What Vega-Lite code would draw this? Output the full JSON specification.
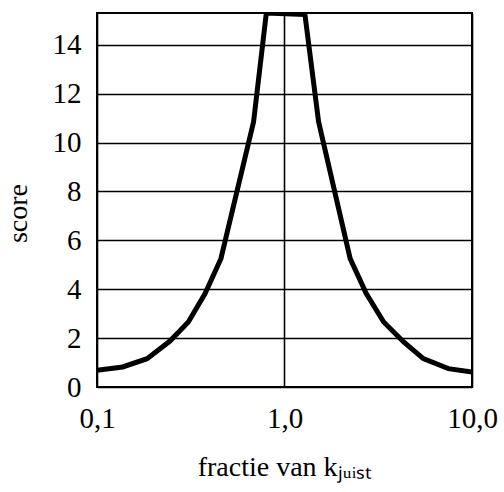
{
  "$schema": "https://vega.github.io/schema/vega-lite/v6.json",
  "width": 375,
  "height": 374,
  "autosize": "none",
  "padding": {"left": 97, "top": 13, "right": 32, "bottom": 105},
  "background": "white",
  "config": {
    "font": "Liberation Serif",
    "view": {"stroke": "black", "strokeWidth": 2},
    "axis": {
      "labelColor": "black",
      "titleColor": "black",
      "titleFontWeight": "normal",
      "domain": false,
      "ticks": false,
      "gridColor": "black",
      "gridOpacity": 1,
      "gridWidth": 1.6
    }
  },
  "data": {
    "values": [
      {"fractie": 0.1, "score": 0.68},
      {"fractie": 0.137, "score": 0.82},
      {"fractie": 0.185, "score": 1.16},
      {"fractie": 0.245, "score": 1.88},
      {"fractie": 0.307, "score": 2.66},
      {"fractie": 0.377, "score": 3.82},
      {"fractie": 0.458, "score": 5.25},
      {"fractie": 0.684, "score": 10.85},
      {"fractie": 0.8, "score": 15.3},
      {"fractie": 1.285, "score": 15.24},
      {"fractie": 1.52, "score": 10.85},
      {"fractie": 2.24, "score": 5.25},
      {"fractie": 2.73, "score": 3.82},
      {"fractie": 3.38, "score": 2.66},
      {"fractie": 4.32, "score": 1.84},
      {"fractie": 5.5, "score": 1.16},
      {"fractie": 7.48, "score": 0.75},
      {"fractie": 10, "score": 0.61}
    ]
  },
  "mark": {"type": "line", "color": "black", "strokeWidth": 5, "clip": true, "strokeJoin": "miter"},
  "encoding": {
    "x": {
      "field": "fractie",
      "type": "quantitative",
      "scale": {"type": "log", "domain": [0.1, 10], "nice": false},
      "axis": {
        "values": [0.1, 1, 10],
        "labelExpr": "datum.value < 0.5 ? '0,1' : datum.value < 5 ? '1,0' : '10,0'",
        "labelFont": "Liberation Serif",
        "labelFontSize": 29,
        "labelPadding": 17,
        "labelFlush": false,
        "labelBaseline": "top",
        "title": "fractie van kⱼᵤᵢₛₜ",
        "titleFont": "Liberation Serif",
        "titleFontSize": 28,
        "titlePadding": 20
      }
    },
    "y": {
      "field": "score",
      "type": "quantitative",
      "scale": {"domain": [0, 15.3], "nice": false, "zero": true},
      "axis": {
        "values": [0, 2, 4, 6, 8, 10, 12, 14],
        "labelFont": "Liberation Serif",
        "labelFontSize": 29,
        "labelPadding": 16,
        "labelColor": "#000000",
        "title": "score",
        "titleFont": "Liberation Serif",
        "titleFontSize": 28,
        "titlePadding": 20,
        "titleY": 200
      }
    }
  }
}
